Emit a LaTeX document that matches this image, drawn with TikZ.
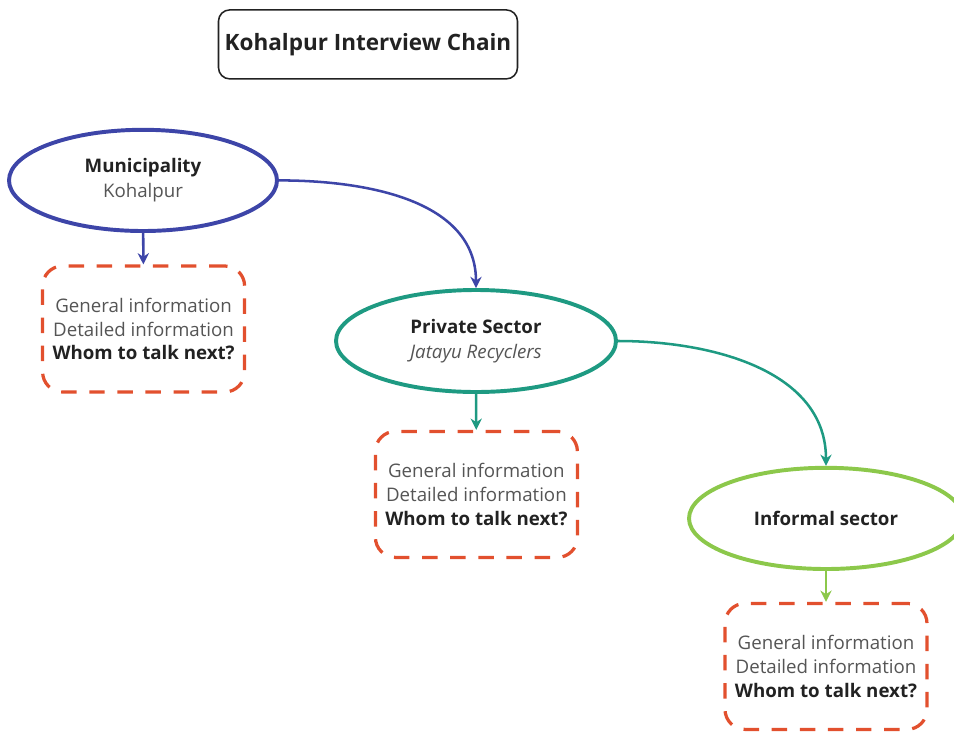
\documentclass[tikz,border=0pt]{standalone}
\usepackage{fontspec}
\setmainfont{Open Sans}
\definecolor{kpblue}{HTML}{3D45A8}
\definecolor{kpteal}{HTML}{1E9A82}
\definecolor{kpgreen}{HTML}{8CC84B}
\definecolor{kpred}{HTML}{E2502E}
\definecolor{kptext}{HTML}{555555}
\definecolor{kpdark}{HTML}{222222}
\usetikzlibrary{arrows.meta, positioning, shapes.geometric}

\begin{document}
\begin{tikzpicture}[
  title/.style={draw=kpdark, rounded corners=8pt, line width=1.1pt, minimum width=7.475cm,
                minimum height=1.725cm, inner sep=2pt, font=\fontsize{16}{19}\selectfont\bfseries,
                text=kpdark},
  actor/.style={ellipse, line width=2.8pt, minimum width=6.7cm, minimum height=2.53cm,
                align=center, font=\fontsize{13.3}{18}\selectfont, text=kptext},
  info/.style={draw=kpred, line width=2.3pt, dash pattern=on 11pt off 9pt, rounded corners=0.5cm,
               minimum width=5.05cm, minimum height=3.15cm, align=center,
               font=\fontsize{13.3}{17}\selectfont, text=kptext},
  link/.style={line width=1.8pt, -{Stealth[length=8pt, width=8pt]}},
]
  \useasboundingbox (0,0) rectangle (23.85,-18.5);

  % Title
  \node[title] (chain) at (9.2,-1.11) {Kohalpur Interview Chain};

  % Actors
  \node[actor, draw=kpblue] (muni) at (3.575,-4.51)
    {\textbf{\textcolor{kpdark}{Municipality}}\\Kohalpur};
  \node[actor, draw=kpteal, minimum width=7cm, minimum height=2.55cm] (private) at (11.9,-8.525)
    {\textbf{\textcolor{kpdark}{Private Sector}}\\\textit{Jatayu Recyclers}};
  \node[actor, draw=kpgreen, minimum width=6.85cm] (informal) at (20.65,-12.96)
    {\textbf{\textcolor{kpdark}{Informal sector}}};

  % Information boxes
  \node[info] (infomuni) at (3.59,-8.225)
    {General information\\Detailed information\\\textbf{\textcolor{kpdark}{Whom to talk next?}}};
  \node[info] (infoprivate) at (11.91,-12.36)
    {General information\\Detailed information\\\textbf{\textcolor{kpdark}{Whom to talk next?}}};
  \node[info] (infoinformal) at (20.65,-16.66)
    {General information\\Detailed information\\\textbf{\textcolor{kpdark}{Whom to talk next?}}};

  % Chain
  \draw[link, kpblue] (muni) -- (infomuni);
  \draw[link, kpblue] (muni.east) to[out=0, in=90] (private.north);
  \draw[link, kpteal] (private) -- (infoprivate);
  \draw[link, kpteal] (private.east) to[out=0, in=90] (informal.north);
  \draw[link, kpgreen] (informal) -- (infoinformal);
\end{tikzpicture}
\end{document}
